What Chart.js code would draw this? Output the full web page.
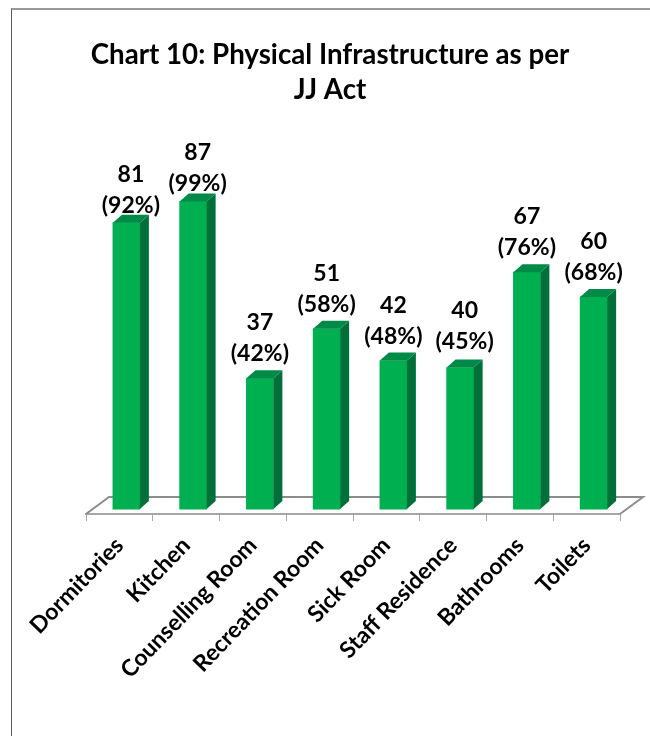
<!DOCTYPE html>
<html>
<head>
<meta charset="utf-8">
<script src="https://cdn.jsdelivr.net/npm/chart.js@4"></script>
<style>
body { margin: 0; background: #fff; }
#wrap { position: absolute; left: 0; top: 0; width: 650px; height: 736px; overflow: hidden; }
#frame { position: absolute; left: 11px; top: 8px; width: 660px; height: 760px; border-left: 1px solid #5a5a5a; border-top: 2px solid #999; }
</style>
</head>
<body>
<div id="wrap">
<div id="frame"></div>
<canvas id="myChart" width="650" height="736" style="position:absolute;left:0;top:0"></canvas>
</div>
<script>
const categories = ['Dormitories', 'Kitchen', 'Counselling Room', 'Recreation Room', 'Sick Room', 'Staff Residence', 'Bathrooms', 'Toilets'];
const counts = [81, 87, 37, 51, 42, 40, 67, 60];
const percents = [92, 99, 42, 58, 48, 45, 76, 68];

const FONT = 'Lato, "Open Sans", sans-serif';
const SHIFT = 7;   // bars sit forward of the category centre
const DEPTH_X = 9;
const DEPTH_Y = 8;

// labels in the original are not all placed alike
function labelPos(i, bar, l, r) {
    const onBlock = counts[i] > 80 || counts[i] === 40;
    let gap = counts[i] > 80 ? 10 : 17;
    if (counts[i] === 40) gap = 19;
    return { x: onBlock ? (l + r + DEPTH_X) / 2 : (l + r) / 2, y: bar.y - gap };
}

// floor of the 3d chart, drawn behind the bars
const floorPlugin = {
    id: 'floor',
    beforeDatasetsDraw(chart) {
        const c = chart.ctx, a = chart.chartArea;
        c.save();
        c.strokeStyle = '#8c8c8c';
        c.lineWidth = 2;
        c.beginPath();
        c.moveTo(a.left, a.bottom);
        c.lineTo(a.left + 23, a.bottom - 17);
        c.lineTo(a.right + 23, a.bottom - 17);
        c.lineTo(a.right, a.bottom);
        c.stroke();
        c.restore();
    }
};

// side and top faces of each bar, and the two line labels
const barsPlugin = {
    id: 'bars3d',
    afterDatasetsDraw(chart) {
        const c = chart.ctx;
        chart.getDatasetMeta(0).data.forEach(function(bar, i) {
            const l = bar.x - bar.width / 2 + SHIFT;
            const r = bar.x + bar.width / 2 + SHIFT;
            c.save();
            c.fillStyle = '#00703a';
            c.beginPath();
            c.moveTo(r, bar.y);
            c.lineTo(r + DEPTH_X, bar.y - DEPTH_Y);
            c.lineTo(r + DEPTH_X, bar.base - DEPTH_Y);
            c.lineTo(r, bar.base);
            c.closePath();
            c.fill();
            c.fillStyle = '#008a47';
            c.beginPath();
            c.moveTo(l, bar.y);
            c.lineTo(l + DEPTH_X, bar.y - DEPTH_Y);
            c.lineTo(r + DEPTH_X, bar.y - DEPTH_Y);
            c.lineTo(r, bar.y);
            c.closePath();
            c.fill();
            c.fillStyle = '#000';
            c.font = 'bold 23px ' + FONT;
            c.textAlign = 'center';
            c.textBaseline = 'alphabetic';
            const pos = labelPos(i, bar, l, r);
            c.fillText(String(counts[i]), pos.x, pos.y - 31);
            c.fillText('(' + percents[i] + '%)', pos.x, pos.y);
            c.restore();
        });
    }
};

// the bars are moved right of their ticks, as in the 3d original
const shiftPlugin = {
    id: 'shift',
    beforeDatasetDraw(chart) {
        chart.ctx.save();
        chart.ctx.translate(SHIFT, 0);
    },
    afterDatasetDraw(chart) {
        chart.ctx.restore();
    }
};

new Chart(document.getElementById('myChart'), {
    type: 'bar',
    data: {
        labels: categories,
        datasets: [{
            data: counts,
            backgroundColor: '#00b050',
            borderWidth: 0,
            barThickness: 27
        }]
    },
    options: {
        responsive: false,
        animation: false,
        layout: { padding: { left: 40, right: 30, top: 0, bottom: 0 } },
        plugins: {
            legend: { display: false },
            tooltip: { enabled: false },
            title: {
                display: true,
                text: ['Chart 10: Physical Infrastructure as per', 'JJ Act'],
                color: '#000',
                font: { family: FONT, size: 27.7, weight: 'bold', lineHeight: 1.26 },
                padding: { top: 38, bottom: 30 }
            }
        },
        scales: {
            x: {
                grid: { drawOnChartArea: false, drawTicks: true, tickLength: 7, color: '#a6a6a6', lineWidth: 1 },
                border: { color: '#a6a6a6', width: 2 },
                ticks: {
                    color: '#000',
                    font: { family: FONT, size: 23, weight: 'bold' },
                    maxRotation: 46,
                    minRotation: 46,
                    padding: 11
                },
                afterFit(scale) { scale.height = 222; }
            },
            y: {
                min: -1.4,
                max: 105,
                ticks: { display: false },
                grid: { display: false },
                border: { display: false },
                afterFit(scale) { scale.width = 46; }
            }
        }
    },
    plugins: [floorPlugin, shiftPlugin, barsPlugin]
});
</script>
</body>
</html>
